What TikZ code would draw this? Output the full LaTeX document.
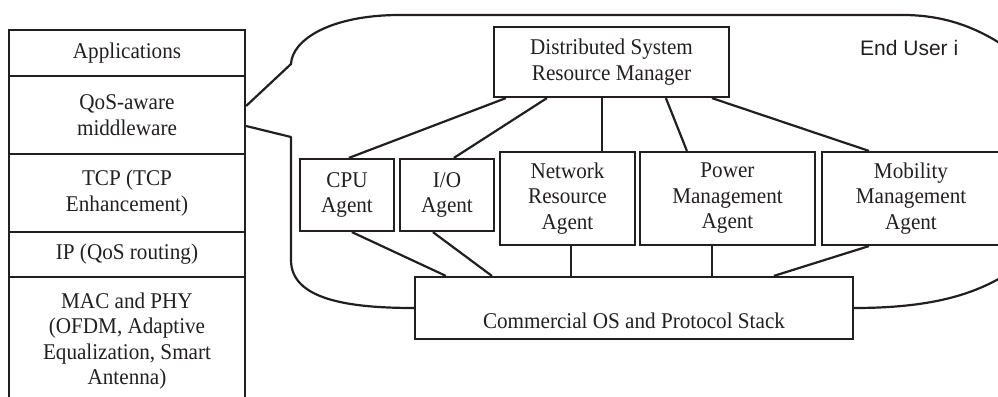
\documentclass[tikz,border=0pt]{standalone}
\usepackage{fontspec}
\setmainfont[FakeStretch=0.94]{Liberation Serif}
\newfontfamily\sansf{Liberation Sans}
\definecolor{ink}{RGB}{35,31,32}
\begin{document}
\begin{tikzpicture}[x=1pt,y=-1pt,
  box/.style={draw=ink, line width=2.2pt, inner sep=0pt, align=center, text=ink,
              font=\fontsize{22.5}{25.5}\selectfont},
  plain/.style={inner sep=0pt, text=ink, font=\fontsize{22.5}{25.5}\selectfont},
  wire/.style={draw=ink, line width=2.2pt, line join=round}]
\useasboundingbox (0,0) rectangle (998,396);
\clip (0,0) rectangle (998,396);
% protocol stack
\node[box, minimum width=236pt, minimum height=46pt]  (app) at (127,53)    {Applications};
\node[box, minimum width=236pt, minimum height=78pt]  (qos) at (127,115)   {QoS-aware\\middleware};
\node[box, minimum width=236pt, minimum height=78pt]  (tcp) at (127,193)   {TCP (TCP\\Enhancement)};
\node[box, minimum width=236pt, minimum height=45pt]  (ip)  at (127,254.5) {IP (QoS routing)};
\node[box, minimum width=236pt, minimum height=128pt] (mac) at (127,341)   {MAC and PHY\\(OFDM, Adaptive\\Equalization, Smart\\Antenna)};
% resource manager and agents
\node[box, minimum width=235pt, minimum height=70pt] (dsrm) at (611.5,62) {Distributed System\\Resource Manager};
\node[box, minimum width=94pt, minimum height=72pt]  (cpu) at (347,195)   {CPU\\Agent};
\node[box, minimum width=94pt, minimum height=72pt]  (io)  at (447,195)   {I/O\\Agent};
\node[box, minimum width=135pt, minimum height=93pt] (net) at (567.5,198.5) {Network\\Resource\\Agent};
\node[box, minimum width=175pt, minimum height=93pt] (pow) at (727.5,198.5) {Power\\Management\\Agent};
\node[box, minimum width=178pt, minimum height=93pt] (mob) at (911,198.5)   {Mobility\\Management\\Agent};
\node[box, minimum width=438pt, minimum height=62pt] (cos) at (634,308) {};
\node[plain, anchor=base] (costext) at (634,328) {Commercial OS and Protocol Stack};
\node[inner sep=0pt, text=ink, font=\sansf\fontsize{21}{25}\selectfont, anchor=base west] (user) at (860,56) {End User i};
% connectors manager -> agents
\draw[wire] ([xshift=13pt]dsrm.south west)  -- ([xshift=50pt]cpu.north west);
\draw[wire] ([xshift=54pt]dsrm.south west)  -- ([xshift=55pt]io.north west);
\draw[wire] ([xshift=109pt]dsrm.south west) -- ([xshift=103pt]net.north west);
\draw[wire] ([xshift=173pt]dsrm.south west) -- ([xshift=48pt]pow.north west);
\draw[wire] ([xshift=219pt]dsrm.south west) -- ([xshift=48pt]mob.north west);
% connectors agents -> OS
\draw[wire] ([xshift=53pt]cpu.south west) -- ([xshift=32pt]cos.north west);
\draw[wire] ([xshift=34pt]io.south west)  -- ([xshift=78pt]cos.north west);
\draw[wire] ([xshift=72pt]net.south west) -- ([xshift=157pt]cos.north west);
\draw[wire] ([xshift=73pt]pow.south west) -- ([xshift=298pt]cos.north west);
\draw[wire] ([xshift=48pt]mob.south west) -- ([xshift=360pt]cos.north west);
% callout bubble
\draw[wire] ([yshift=9pt]qos.east) -- (291,64) .. controls (292,40) and (330,15) .. (400,15)
   -- (903,15) .. controls (940,15) and (975,25) .. (1010,50);
\draw[wire] ([yshift=-11pt]qos.east) -- (291,137) -- (291,260)
   .. controls (291,300) and (350,308) .. (cos.west);
\draw[wire] (cos.east) .. controls (930,308) and (975,295) .. (1010,272);
\end{tikzpicture}
\end{document}
